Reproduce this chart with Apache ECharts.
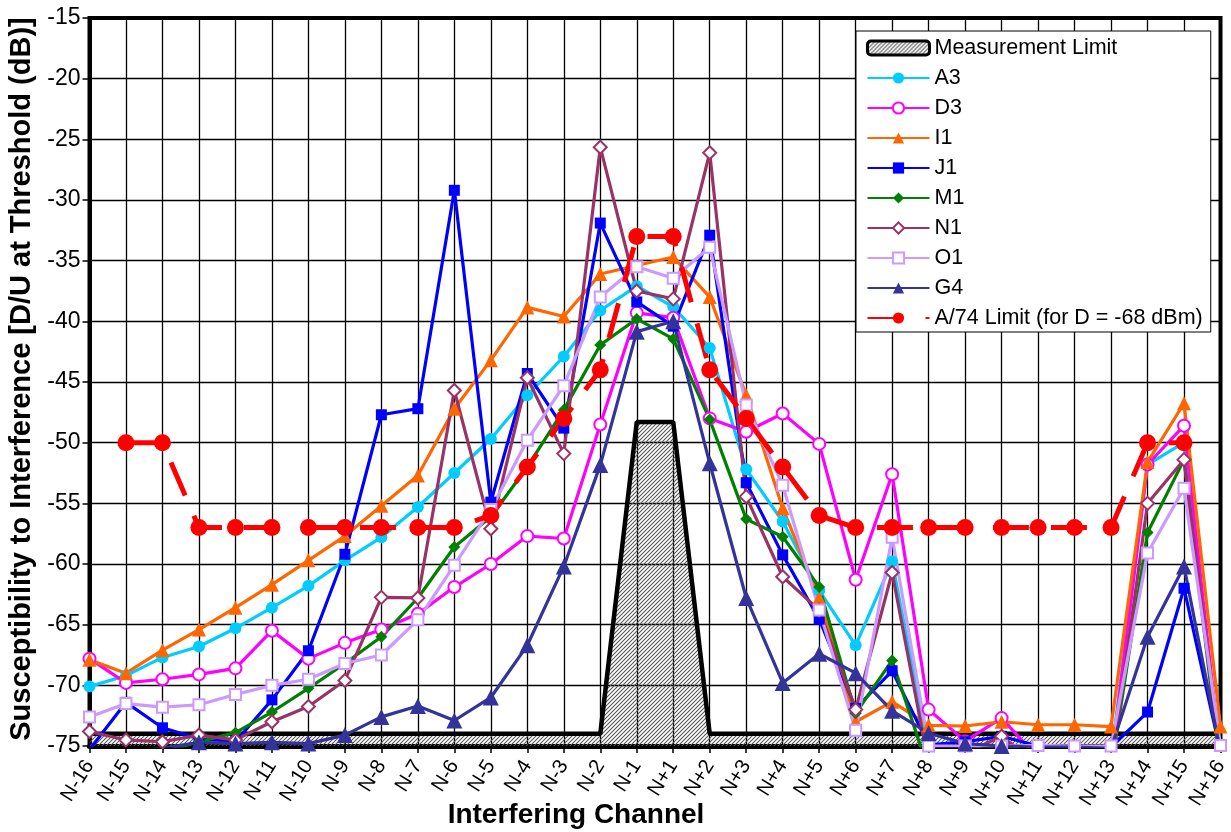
<!DOCTYPE html>
<html><head><meta charset="utf-8">
<script src="https://cdn.jsdelivr.net/npm/echarts@6/dist/echarts.min.js"></script>
<style>html,body{margin:0;padding:0;background:#fff}#c{width:1231px;height:832px}</style>
</head><body><div id="c"></div>
<script>
const categories = ['N-16','N-15','N-14','N-13','N-12','N-11','N-10','N-9','N-8','N-7','N-6','N-5','N-4','N-3','N-2','N-1',
  'N+1','N+2','N+3','N+4','N+5','N+6','N+7','N+8','N+9','N+10','N+11','N+12','N+13','N+14','N+15','N+16'];

const measurementLimit = [-74,-74,-74,-74,-74,-74,-74,-74,-74,-74,-74,-74,-74,-74,-74,-48.3,
  -48.3,-74,-74,-74,-74,-74,-74,-74,-74,-74,-74,-74,-74,-74,-74,-74];
const A3 = [-70.1,-69.2,-67.7,-66.8,-65.3,-63.6,-61.8,-59.7,-57.8,-55.3,-52.5,-49.7,-46.1,-42.9,-39.1,-37.1,
  -38.8,-42.2,-52.2,-56.5,-62.2,-66.7,-59.8,-75.6,-76,-76,-76,-76,-76,-51.8,-50,-76];
const D3 = [-67.8,-69.8,-69.5,-69.1,-68.6,-65.5,-67.8,-66.5,-65.4,-64.1,-61.9,-60.0,-57.7,-57.9,-48.5,-39.3,
  -39.7,-48.0,-49.1,-47.6,-50.1,-61.3,-52.6,-72.0,-74.6,-72.7,-76,-76.5,-76.5,-51.8,-48.6,-76];
const I1 = [-67.9,-69.0,-67.1,-65.4,-63.6,-61.7,-59.7,-57.7,-55.2,-52.7,-47.2,-43.2,-38.85,-39.6,-36.1,-35.4,
  -34.7,-38.0,-46.1,-55.4,-62.8,-73.0,-71.35,-73.3,-73.35,-73.0,-73.25,-73.25,-73.4,-51.6,-46.75,-73.4];
const J1 = [-75.3,-71.4,-73.5,-74.4,-74.65,-71.2,-67.15,-59.2,-47.7,-47.2,-29.2,-54.9,-44.3,-48.8,-31.9,-38.4,
  -40.4,-32.9,-53.3,-59.25,-64.55,-71.9,-68.8,-74.9,-74.65,-74.2,-75.0,-75.1,-75.1,-72.2,-62.0,-75.5];
const M1 = [-76.5,-76.0,-75.5,-74.65,-73.9,-72.2,-70.25,-68.2,-66.0,-62.8,-58.6,-56.1,-52.0,-47.3,-41.95,-39.8,
  -41.45,-48.1,-56.3,-57.75,-61.9,-72.3,-67.95,-77,-77,-77,-77,-77,-77,-57.4,-51.4,-77];
const N1 = [-73.8,-74.5,-74.65,-74.1,-74.5,-73.0,-71.75,-69.6,-62.75,-62.8,-45.7,-57.1,-44.65,-50.9,-25.65,-37.5,
  -38.15,-26.1,-54.45,-61.05,-63.8,-72.0,-60.7,-76.5,-75.6,-74.2,-76.5,-77,-77,-55.0,-51.4,-76];
const O1 = [-72.6,-71.5,-71.8,-71.6,-70.75,-70.0,-69.5,-68.2,-67.5,-64.6,-60.1,-55.5,-49.8,-45.3,-38.0,-35.5,
  -36.45,-33.9,-46.9,-53.5,-63.8,-73.7,-57.8,-75.0,-75.0,-75.0,-74.95,-75.0,-75.0,-59.1,-53.75,-74.95];
const G4 = [-75.3,-75.4,-75.2,-74.7,-74.8,-74.7,-74.8,-74.1,-72.6,-71.7,-72.9,-71.0,-66.7,-60.2,-51.85,-40.85,
  -40.0,-51.7,-62.8,-69.8,-67.4,-69.0,-72.1,-73.95,-74.8,-75.0,-75.1,-75.1,-75.2,-66.0,-60.2,-75.5];
const A74 = [null,-50,-50,-57,-57,-57,-57,-57,-57,-57,-57,-56,-52,-48,-44,-33,
  -33,-44,-48,-52,-56,-57,-57,-57,-57,-57,-57,-57,-57,-50,-50,null];
const yTicks = {min:-75, max:-15, step:5};

function hatch(){
  const c = document.createElement('canvas');
  c.width = 4; c.height = 4;
  const g = c.getContext('2d');
  g.strokeStyle = '#555'; g.lineWidth = 1.05;
  g.beginPath();
  g.moveTo(-1,5); g.lineTo(5,-1);
  g.moveTo(-3,3); g.lineTo(3,-3);
  g.moveTo(1,7); g.lineTo(7,1);
  g.stroke();
  return c;
}
const hatchFill = {image: hatch(), repeat: 'repeat'};
const FONT = '"Liberation Sans", Arial, sans-serif';

function lineSeries(name, data, color, symbol, size, empty){
  return {
    name, type:'line', data, symbol, symbolSize: size,
    lineStyle:{color, width:3.2},
    itemStyle: empty ? {color:color, borderWidth:2} : {color, borderWidth:0},
    emphasis:{disabled:true}, animation:false
  };
}

const chart = echarts.init(document.getElementById('c'), null, {renderer:'canvas'});
chart.setOption({
  animation:false,
  grid:{left:89.5, right:8, top:18, bottom:86, show:true, borderColor:'#000', borderWidth:4, containLabel:false},
  xAxis:{
    type:'category', data:categories, boundaryGap:false,
    axisLine:{show:true, lineStyle:{color:'#000', width:5}},
    axisTick:{show:true, interval:0, length:7, lineStyle:{color:'#000', width:1.5}},
    axisLabel:{interval:0, rotate:58, fontSize:20.5, fontFamily:FONT, color:'#000', margin:16},
    splitLine:{show:true, interval:0, lineStyle:{color:'#000', width:1.3}}
  },
  yAxis:{
    type:'value', min:yTicks.min, max:yTicks.max, interval:yTicks.step,
    axisLine:{show:true, lineStyle:{color:'#000', width:4}},
    axisTick:{show:true, length:7, lineStyle:{color:'#000', width:1.5}},
    axisLabel:{fontSize:23, fontFamily:FONT, color:'#000', margin:9},
    splitLine:{show:true, lineStyle:{color:'#000', width:1.3}}
  },
  legend:{
    orient:'vertical', left:856, top:31, padding:[6,8,3,10],
    itemWidth:62, itemHeight:14, itemGap:8,
    backgroundColor:'#fff', borderColor:'#000', borderWidth:1,
    textStyle:{fontSize:21.5, fontFamily:FONT, color:'#000'},
    data:[
      {name:'Measurement Limit', icon:'roundRect', itemStyle:{color:hatchFill, borderColor:'#000', borderWidth:3}},
      'A3','D3','I1','J1','M1','N1','O1','G4','A/74 Limit (for D = -68 dBm)'
    ]
  },
  graphic:[
    {type:'text', x:22, y:379, rotation:Math.PI/2, style:{text:'Susceptibility to Interference [D/U at Threshold (dB)]', font:'bold 29px "Liberation Sans"', fill:'#000', align:'center', verticalAlign:'middle'}},
    {type:'text', x:576, y:815, style:{text:'Interfering Channel', font:'bold 28px "Liberation Sans"', fill:'#000', align:'center', verticalAlign:'middle'}}
  ],
  series:[
    {name:'Measurement Limit', type:'line', data:measurementLimit, symbol:'none',
      lineStyle:{color:'#000', width:4.5}, itemStyle:{color:'#000'},
      areaStyle:{color:hatchFill, origin:'start', opacity:1}, emphasis:{disabled:true}},
    lineSeries('A3', A3, '#00CCFF', 'circle', 12, false),
    lineSeries('D3', D3, '#FF00FF', 'emptyCircle', 12, true),
    lineSeries('I1', I1, '#FF6600', 'triangle', 14, false),
    lineSeries('J1', J1, '#0000FF', 'rect', 11, false),
    lineSeries('M1', M1, '#008000', 'diamond', 12, false),
    lineSeries('N1', N1, '#993366', 'emptyDiamond', 13, true),
    lineSeries('O1', O1, '#CC99FF', 'emptyRect', 11, true),
    lineSeries('G4', G4, '#333399', 'triangle', 16, false),
    {name:'A/74 Limit (for D = -68 dBm)', type:'line', data:A74, symbol:'circle', symbolSize:17,
      connectNulls:false, lineStyle:{color:'#FF0000', width:5, type:[36,22]},
      itemStyle:{color:'#FF0000'}, emphasis:{disabled:true}}
  ]
});
</script></body></html>
